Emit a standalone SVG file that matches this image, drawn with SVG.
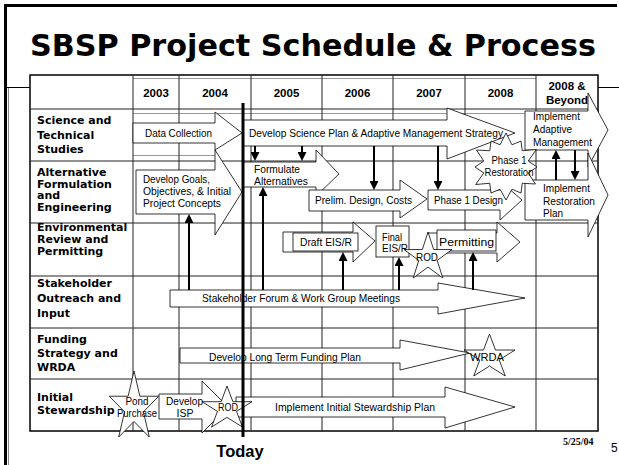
<svg xmlns="http://www.w3.org/2000/svg" width="619" height="465" viewBox="0 0 619 465">
<style>
.frame{stroke:#000;fill:none}
.grid{stroke:#222;stroke-width:1;fill:none}
.sub{stroke:#999;stroke-width:1;fill:none}
.shape{fill:#fff;stroke:#000;stroke-width:0.8}
.lbl{font-family:"Liberation Sans",Arial,sans-serif;font-size:10.5px;fill:#000}
.sm{font-size:10px}
.mid{text-anchor:middle}
.row{font-family:"DejaVu Sans",Verdana,sans-serif;font-size:11px;font-weight:bold;fill:#000}
.yr{font-family:"Liberation Sans",Arial,sans-serif;font-size:11.5px;font-weight:bold;text-anchor:middle;fill:#000}
.link{stroke:#000;stroke-width:2;fill:none;marker-end:url(#ah)}
</style>
<defs>
<marker id="ah" markerUnits="userSpaceOnUse" markerWidth="9" markerHeight="9" refX="3" refY="4.5" orient="auto"><path d="M0,0L9,4.5L0,9z" fill="#000"/></marker>
</defs>
<rect width="619" height="465" fill="#fff"/>
<g id="frame">
<path class="frame" stroke-width="3" d="M4,5.5H617M5.5,4V465"/>
<path class="frame" stroke-width="1" d="M5,87.5H30M598,87.5H619"/>
<path stroke="#888" stroke-width="1" d="M8.5,88V465"/>
</g>
<text x="30" y="56" font-family="'DejaVu Sans',Verdana,sans-serif" font-size="29.5" font-weight="bold" textLength="566" lengthAdjust="spacingAndGlyphs">SBSP Project Schedule &amp; Process</text>
<g id="table">
<rect x="30" y="75" width="568" height="356" fill="#fff" stroke="#000" stroke-width="1.5"/>
<path class="sub" d="M133,78.5H536M133,113.5H525M133,155.5H215"/>
<path class="grid" d="M30,109H598M30,161H598M30,223H598M30,276H598M30,328H598M30,379H598"/>
<path class="grid" d="M133,75V431M179,75V431M251,75V431M322,75V431M393,75V431M465,75V431M536,75V431"/>
<text class="yr" x="156" y="97">2003</text>
<text class="yr" x="215" y="97">2004</text>
<text class="yr" x="286.5" y="97">2005</text>
<text class="yr" x="357.5" y="97">2006</text>
<text class="yr" x="429" y="97">2007</text>
<text class="yr" x="500.5" y="97">2008</text>
<text class="yr" x="567" y="90">2008 &amp;</text>
<text class="yr" x="567" y="104">Beyond</text>
<text class="row" x="37" y="124">Science and</text>
<text class="row" x="37" y="138.5">Technical</text>
<text class="row" x="37" y="153">Studies</text>
<text class="row" x="37" y="176">Alternative</text>
<text class="row" x="37" y="187.5">Formulation</text>
<text class="row" x="37" y="199">and</text>
<text class="row" x="37" y="211">Engineering</text>
<text class="row" x="37" y="231">Environmental</text>
<text class="row" x="37" y="243">Review and</text>
<text class="row" x="37" y="255">Permitting</text>
<text class="row" x="37" y="287">Stakeholder</text>
<text class="row" x="37" y="302">Outreach and</text>
<text class="row" x="37" y="317">Input</text>
<text class="row" x="37" y="343">Funding</text>
<text class="row" x="37" y="357">Strategy and</text>
<text class="row" x="37" y="371">WRDA</text>
<text class="row" x="37" y="401">Initial</text>
<text class="row" x="37" y="414">Stewardship</text>
</g>
<g id="data-collection">
<polygon class="shape" points="133,123 215,123 215,112 242,133 215,150 215,143 133,143"/>
<text class="lbl" x="145" y="137" textLength="67" lengthAdjust="spacingAndGlyphs">Data Collection</text>
</g>
<g id="science-plan">
<polygon class="shape" points="243,120 447,120 447,108 515,133 447,159 447,146 243,146"/>
<text class="lbl" x="249" y="137" textLength="254" lengthAdjust="spacingAndGlyphs">Develop Science Plan &amp; Adaptive Management Strategy</text>
</g>
<g id="develop-goals">
<polygon class="shape" points="136,170 215,170 215,150 242,192 215,235 215,214 136,214"/>
<text class="lbl" x="143" y="183" textLength="67" lengthAdjust="spacingAndGlyphs">Develop Goals,</text>
<text class="lbl" x="143" y="195" textLength="88" lengthAdjust="spacingAndGlyphs">Objectives, &amp; Initial</text>
<text class="lbl" x="143" y="207" textLength="78" lengthAdjust="spacingAndGlyphs">Project Concepts</text>
</g>
<g id="formulate">
<polygon class="shape" points="243,162 316,162 316,150 339,174 316,196 316,187 243,187"/>
<text class="lbl" x="254" y="173" textLength="46" lengthAdjust="spacingAndGlyphs">Formulate</text>
<text class="lbl" x="254" y="185" textLength="54" lengthAdjust="spacingAndGlyphs">Alternatives</text>
</g>
<g id="prelim-design">
<polygon class="shape" points="309,190 400,190 400,180 427,199 400,218 400,211 309,211"/>
<text class="lbl" x="315" y="204" textLength="97" lengthAdjust="spacingAndGlyphs">Prelim. Design, Costs</text>
</g>
<g id="phase1-design">
<polygon class="shape" points="428,190 500,190 500,181 522,200 500,220 500,210 428,210"/>
<text class="lbl" x="434" y="204" textLength="69" lengthAdjust="spacingAndGlyphs">Phase 1 Design</text>
</g>
<g id="adaptive">
<polygon class="shape" points="525,111 588,111 588,93 608,130 588,167 588,150 525,150"/>
<text class="lbl sm" x="533" y="119.5" textLength="47" lengthAdjust="spacingAndGlyphs">Implement</text>
<text class="lbl sm" x="533" y="132.5" textLength="39" lengthAdjust="spacingAndGlyphs">Adaptive</text>
<text class="lbl sm" x="533" y="145.5" textLength="59" lengthAdjust="spacingAndGlyphs">Management</text>
</g>
<g id="restoration-plan">
<polygon class="shape" points="525,180 588,180 588,153 608,195 588,237 588,220 525,220"/>
<text class="lbl sm" x="543" y="192" textLength="47" lengthAdjust="spacingAndGlyphs">Implement</text>
<text class="lbl sm" x="543" y="205" textLength="52" lengthAdjust="spacingAndGlyphs">Restoration</text>
<text class="lbl sm" x="543" y="217" textLength="20" lengthAdjust="spacingAndGlyphs">Plan</text>
</g>
<g id="phase1-restoration">
<polygon class="shape" points="506,133 511.95,144.78 521,141.02 522.26,150.74 536.31,149.5 528.22,161.05 537,167 528.22,172.95 535.44,184 522.26,183.26 521,192.98 511.95,189.22 506,200 500.05,189.22 491,192.98 489.74,183.26 475.69,184.5 483.78,172.95 475,167 483.78,161.05 476.56,150 489.74,150.74 491,141.02 500.05,144.78"/>
<text class="lbl mid" x="509" y="164" textLength="35" lengthAdjust="spacingAndGlyphs">Phase 1</text>
<text class="lbl mid" x="509" y="176" textLength="49" lengthAdjust="spacingAndGlyphs">Restoration</text>
</g>
<g id="draft-eis">
<polygon class="shape" points="283,232 353,232 353,222 375,241 353,262 353,252 283,252"/>
<rect class="shape" x="293" y="233" width="65" height="18"/>
<text class="lbl" x="300" y="246" textLength="52" lengthAdjust="spacingAndGlyphs">Draft EIS/R</text>
</g>
<g id="final-eis">
<rect class="shape" x="376" y="226" width="33" height="31"/>
<text class="lbl" x="382" y="241" textLength="20" lengthAdjust="spacingAndGlyphs">Final</text>
<text class="lbl" x="382" y="252" textLength="26" lengthAdjust="spacingAndGlyphs">EIS/R</text>
</g>
<g id="permitting">
<polygon class="shape" points="428,233 497,233 497,222 520,242 497,262 497,253 428,253"/>
<rect class="shape" x="437" y="230" width="59" height="21"/>
<text class="lbl" x="439" y="246" textLength="55" lengthAdjust="spacingAndGlyphs">Permitting</text>
</g>
<g id="rod-eis">
<polygon class="shape" points="428,232 433.66,249.55 451.97,249.55 437.16,260.4 442.81,277.95 428,267.1 413.19,277.95 418.84,260.4 404.03,249.55 422.34,249.55"/>
<text class="lbl mid" x="427" y="261" textLength="22" lengthAdjust="spacingAndGlyphs">ROD</text>
</g>
<g id="stakeholder-forum">
<polygon class="shape" points="170,290 438,290 438,283 525,298 438,314 438,307 170,307"/>
<text class="lbl" x="202" y="302" textLength="198" lengthAdjust="spacingAndGlyphs">Stakeholder Forum &amp; Work Group Meetings</text>
</g>
<g id="funding-plan">
<polygon class="shape" points="180,348 400,348 400,340 470,353 400,370 400,363 180,363"/>
<text class="lbl" x="209" y="361" textLength="152" lengthAdjust="spacingAndGlyphs">Develop Long Term Funding Plan</text>
</g>
<g id="wrda">
<polygon class="shape" points="489.5,334 495.52,350.03 514.99,350.03 499.24,359.94 505.25,375.97 489.5,366.06 473.75,375.97 479.76,359.94 464.01,350.03 483.48,350.03"/>
<text class="lbl mid" x="487" y="361" textLength="34" lengthAdjust="spacingAndGlyphs">WRDA</text>
</g>
<g id="develop-isp">
<polygon class="shape" points="159,394 202,394 202,381 228,407 202,433 202,419 159,419"/>
<text class="lbl" x="166" y="405" textLength="37" lengthAdjust="spacingAndGlyphs">Develop</text>
<text class="lbl mid" x="185" y="417" textLength="17" lengthAdjust="spacingAndGlyphs">ISP</text>
</g>
<g id="initial-stewardship-plan">
<polygon class="shape" points="236,397 445,397 445,387 515,407 445,428 445,417 236,417"/>
<text class="lbl" x="275" y="411" textLength="160" lengthAdjust="spacingAndGlyphs">Implement Initial Stewardship Plan</text>
</g>
<g id="rod-initial">
<polygon class="shape" points="227,386 232.9,401.69 252.01,401.69 236.55,411.38 242.46,427.06 227,417.37 211.54,427.06 217.45,411.38 201.99,401.69 221.1,401.69"/>
<text class="lbl mid" x="228" y="411" textLength="20" lengthAdjust="spacingAndGlyphs">ROD</text>
</g>
<g id="pond-purchase">
<polygon class="shape" points="134,371 139.84,396.22 158.73,396.22 143.45,411.81 149.28,437.03 134,421.44 118.72,437.03 124.55,411.81 109.27,396.22 128.16,396.22"/>
<text class="lbl mid" x="137" y="405" textLength="23" lengthAdjust="spacingAndGlyphs">Pond</text>
<text class="lbl mid" x="137" y="417" textLength="40" lengthAdjust="spacingAndGlyphs">Purchase</text>
</g>
<g id="connectors">
<path class="link" d="M255,146V155"/>
<path class="link" d="M302,146V155"/>
<path class="link" d="M374,146V184"/>
<path class="link" d="M438,146V184"/>
<path class="link" d="M189,290V220"/>
<path class="link" d="M263,290V193"/>
<path class="link" d="M343,290V258"/>
<path class="link" d="M399,290V263"/>
<path class="link" d="M473,290V258"/>
<path class="link" d="M556,180V156"/>
<path class="link" d="M575,150V174"/>
</g>
<g id="today">
<path stroke="#000" stroke-width="3" d="M243,103V437"/>
<text x="240" y="457" text-anchor="middle" font-family="'Liberation Sans',Arial,sans-serif" font-size="16.5" font-weight="bold">Today</text>
</g>
<text x="563" y="445" font-family="'Liberation Serif','Times New Roman',serif" font-size="10" font-weight="bold">5/25/04</text>
<text x="611" y="452" font-family="'Liberation Sans',Arial,sans-serif" font-size="12">5</text>
</svg>
